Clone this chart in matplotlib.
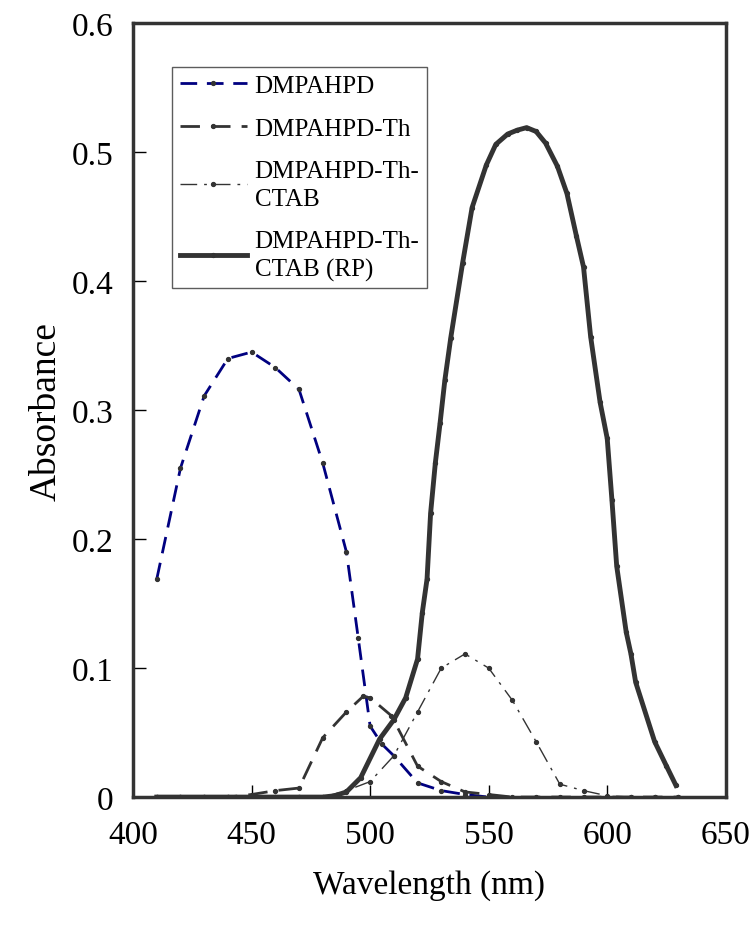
import matplotlib
matplotlib.use('Agg')
import matplotlib.pyplot as plt

# Absorption spectra
wl_dye = [410, 420, 430, 440, 450, 460, 470, 480, 490, 495, 500, 505, 510, 520, 530, 540, 550]
abs_dye = [0.169, 0.255, 0.311, 0.340, 0.345, 0.333, 0.316, 0.259, 0.190, 0.123, 0.055, 0.041,
           0.032, 0.011, 0.005, 0.002, 0.0]

wl_th = [410, 420, 430, 440, 450, 460, 470, 480, 490, 497, 500, 509, 520, 530, 540, 550,
         560, 570, 580, 590, 600, 610, 620, 630]
abs_th = [0.0, 0.0, 0.0, 0.0, 0.002, 0.005, 0.007, 0.046, 0.066, 0.078, 0.077, 0.063, 0.024,
          0.012, 0.004, 0.002, 0.0, 0.0, 0.0, 0.0, 0.0, 0.0, 0.0, 0.0]

wl_ctab = [410, 420, 430, 440, 450, 460, 470, 480, 490, 500, 510, 520, 530, 540, 550, 560,
           570, 580, 590, 600, 610, 620, 630]
abs_ctab = [0.0, 0.0, 0.0, 0.0, 0.0, 0.0, 0.0, 0.0, 0.005, 0.012, 0.032, 0.066, 0.100, 0.111,
            0.100, 0.075, 0.043, 0.010, 0.005, 0.001, 0.0, 0.0, 0.0]

wl_rp = [410, 420, 430, 440, 450, 460, 470, 480, 485, 490, 496, 504, 510, 515, 520, 522, 524,
         525.5, 527.5, 529.5, 531.5, 534, 539, 543, 549, 553, 558, 562, 566, 570, 574, 579,
         583, 587, 590, 593, 597, 600, 602, 604, 608, 610, 612, 620, 625, 629]
abs_rp = [0.0, 0.0, 0.0, 0.0, 0.0, 0.0, 0.0, 0.0, 0.001, 0.004, 0.015, 0.045, 0.060, 0.077,
          0.107, 0.143, 0.169, 0.220, 0.259, 0.290, 0.323, 0.356, 0.414, 0.457, 0.490, 0.506,
          0.514, 0.517, 0.519, 0.516, 0.507, 0.489, 0.468, 0.435, 0.411, 0.357, 0.306, 0.278,
          0.230, 0.179, 0.128, 0.111, 0.089, 0.043, 0.024, 0.009]

labels = ['DMPAHPD', 'DMPAHPD-Th', 'DMPAHPD-Th-\nCTAB', 'DMPAHPD-Th-\nCTAB (RP)']

plt.rcParams['font.family'] = ['Liberation Serif', 'DejaVu Serif']

fig = plt.figure(figsize=(7.56, 9.28), dpi=100)
ax = fig.add_axes([0.176, 0.140, 0.784, 0.834])

dark = '#333333'
mk = dict(marker='o', markersize=2.8, markerfacecolor=dark, markeredgecolor=dark)

ax.plot(wl_dye, abs_dye, color='#000080', lw=2, dashes=(6, 3.5), label=labels[0], **mk)
ax.plot(wl_th, abs_th, color=dark, lw=2, dashes=(7, 4), label=labels[1], **mk)
ax.plot(wl_ctab, abs_ctab, color=dark, lw=1, dashes=(12, 5, 2, 5), label=labels[2], **mk)
ax.plot(wl_rp, abs_rp, color=dark, lw=3.5, label=labels[3], **mk)

ax.set_xlim(400, 650)
ax.set_ylim(0, 0.6)
ax.set_xticks([400, 450, 500, 550, 600, 650])
ax.set_yticks([0, 0.1, 0.2, 0.3, 0.4, 0.5, 0.6])
ax.set_yticklabels(['0', '0.1', '0.2', '0.3', '0.4', '0.5', '0.6'])
ax.tick_params(direction='in', length=9, width=1, color='black', labelsize=24)
ax.tick_params(axis='x', pad=16)
ax.tick_params(axis='y', pad=14)

for s in ax.spines.values():
    s.set_linewidth(2.5)
    s.set_color(dark)

ax.set_xlabel('Wavelength (nm)', fontsize=24, labelpad=14)
ax.set_ylabel('Absorbance', fontsize=27, labelpad=6)

leg = ax.legend(loc='upper left', bbox_to_anchor=(0.066, 0.943), fontsize=18,
                frameon=True, fancybox=False, edgecolor=dark, handlelength=2.7,
                handletextpad=0.3, labelspacing=0.8, borderpad=0.3, borderaxespad=0,
                numpoints=1)
leg.get_frame().set_linewidth(1)
for t in leg.get_texts():
    t.set_linespacing(1.35)

fig.savefig('out.png', dpi=100)
